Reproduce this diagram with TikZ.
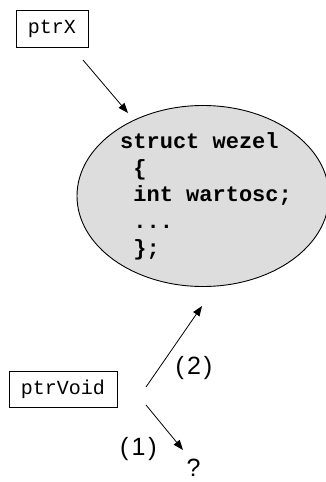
\documentclass[tikz,border=0pt]{standalone}
\usepackage{fontspec}
\usetikzlibrary{shapes.geometric,arrows.meta}
\newfontfamily\codefont{Liberation Mono}
\newfontfamily\labfont{Liberation Sans}[LetterSpace=12]
\definecolor{ellfill}{HTML}{DDDDDD}
\begin{document}
\begin{tikzpicture}[x=1pt,y=-1pt,
  ptrbox/.style={draw, line width=0.8pt, rectangle, inner sep=0pt,
    font={\codefont\fontsize{20}{24}\selectfont}},
  codeline/.style={anchor=base west, inner sep=0pt,
    font={\codefont\bfseries\fontsize{22}{27}\selectfont}},
  lab/.style={inner sep=0pt, font={\labfont\fontsize{25}{28}\selectfont}},
  arr/.style={-{Triangle[length=10pt,width=7.5pt]}, line width=0.8pt}]
\useasboundingbox (0,0) rectangle (326,482);
\clip (0,0) rectangle (326,482);

\node[draw, ellipse, fill=ellfill, line width=0.9pt, inner sep=0pt,
  minimum width=252pt, minimum height=181pt] (wezel) at (203,196) {};

\node[codeline] (l1) at (120,148) {struct wezel};
\node[codeline] (l2) at (133.2,175) {\{};
\node[codeline] (l3) at (133.2,201) {int wartosc;};
\node[codeline] (l4) at (133.2,228) {...};
\node[codeline] (l5) at (133.2,255) {\};};

\node[ptrbox, minimum width=72pt, minimum height=37pt] (ptrx) at (52,28.5) {ptrX};
\node[ptrbox, minimum width=108pt, minimum height=36pt] (ptrvoid) at (63,389) {ptrVoid};

\coordinate (a1s) at (83,60);
\coordinate (a1e) at (128,113);
\draw[arr] (a1s) -- (a1e);

\coordinate (a2s) at (146,387);
\coordinate (a2e) at (202,306);
\draw[arr] (a2s) -- (a2e);

\coordinate (a3s) at (146,405);
\coordinate (a3e) at (183,450);
\draw[arr] (a3s) -- (a3e);

\node[lab] (lab2) at (194,368) {(2)};
\node[lab] (lab1) at (138.5,449) {(1)};
\node[lab, anchor=base] (q) at (193.5,476.5) {?};
\end{tikzpicture}
\end{document}
